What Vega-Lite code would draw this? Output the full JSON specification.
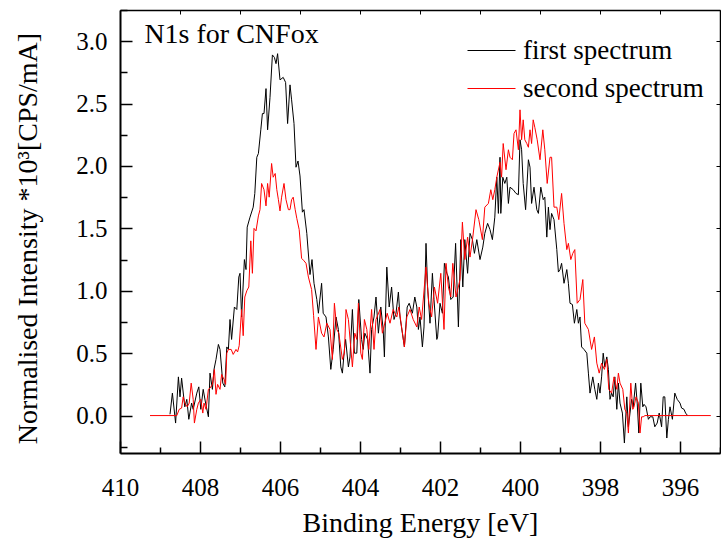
{
  "$schema": "https://vega.github.io/schema/vega-lite/v6.json",
  "width": 600,
  "height": 443,
  "autosize": {"type": "none"},
  "padding": {"left": 120, "top": 10, "right": 1, "bottom": 87},
  "background": "white",
  "config": {
    "font": "Liberation Serif, DejaVu Serif, serif",
    "view": {"stroke": null},
    "axis": {"grid": false, "domainColor": "black", "tickColor": "black", "labelColor": "black", "titleColor": "black", "titleFontWeight": "normal", "labelFont": "Liberation Serif, DejaVu Serif, serif", "titleFont": "Liberation Serif, DejaVu Serif, serif"},
    "legend": {"labelFont": "Liberation Serif, DejaVu Serif, serif", "labelColor": "black"},
    "text": {"font": "Liberation Serif, DejaVu Serif, serif"}
  },
  "resolve": {"axis": {"x": "independent", "y": "independent"}},
  "layer": [
    {
      "data": {"values": [
        {"s":"first spectrum","E":408.75,"I":0.01},{"s":"first spectrum","E":408.69,"I":0.18},{"s":"first spectrum","E":408.61,"I":-0.06},{"s":"first spectrum","E":408.54,"I":0.31},{"s":"first spectrum","E":408.50,"I":0.15},{"s":"first spectrum","E":408.46,"I":0.30},{"s":"first spectrum","E":408.38,"I":0.07},{"s":"first spectrum","E":408.33,"I":0.13},{"s":"first spectrum","E":408.28,"I":-0.03},{"s":"first spectrum","E":408.21,"I":0.10},{"s":"first spectrum","E":408.17,"I":0.05},{"s":"first spectrum","E":408.08,"I":0.18},{"s":"first spectrum","E":408.03,"I":0.23},{"s":"first spectrum","E":407.98,"I":0.05},{"s":"first spectrum","E":407.92,"I":0.21},{"s":"first spectrum","E":407.86,"I":0.10},{"s":"first spectrum","E":407.79,"I":-0.01},{"s":"first spectrum","E":407.75,"I":0.34},{"s":"first spectrum","E":407.69,"I":0.21},{"s":"first spectrum","E":407.65,"I":0.37},{"s":"first spectrum","E":407.60,"I":0.45},{"s":"first spectrum","E":407.54,"I":0.57},{"s":"first spectrum","E":407.50,"I":0.53},{"s":"first spectrum","E":407.43,"I":0.26},{"s":"first spectrum","E":407.38,"I":0.23},{"s":"first spectrum","E":407.33,"I":0.55},{"s":"first spectrum","E":407.29,"I":0.53},{"s":"first spectrum","E":407.25,"I":0.77},{"s":"first spectrum","E":407.21,"I":0.61},{"s":"first spectrum","E":407.14,"I":0.87},{"s":"first spectrum","E":407.08,"I":0.85},{"s":"first spectrum","E":407.03,"I":1.11},{"s":"first spectrum","E":407.00,"I":1.14},{"s":"first spectrum","E":406.96,"I":0.79},{"s":"first spectrum","E":406.89,"I":1.25},{"s":"first spectrum","E":406.85,"I":1.17},{"s":"first spectrum","E":406.82,"I":1.51},{"s":"first spectrum","E":406.75,"I":1.59},{"s":"first spectrum","E":406.67,"I":1.67},{"s":"first spectrum","E":406.63,"I":1.78},{"s":"first spectrum","E":406.58,"I":2.07},{"s":"first spectrum","E":406.54,"I":2.10},{"s":"first spectrum","E":406.48,"I":2.29},{"s":"first spectrum","E":406.44,"I":2.42},{"s":"first spectrum","E":406.40,"I":2.42},{"s":"first spectrum","E":406.35,"I":2.62},{"s":"first spectrum","E":406.31,"I":2.29},{"s":"first spectrum","E":406.25,"I":2.55},{"s":"first spectrum","E":406.19,"I":2.89},{"s":"first spectrum","E":406.14,"I":2.87},{"s":"first spectrum","E":406.10,"I":2.82},{"s":"first spectrum","E":406.06,"I":2.90},{"s":"first spectrum","E":406.00,"I":2.69},{"s":"first spectrum","E":405.92,"I":2.71},{"s":"first spectrum","E":405.86,"I":2.67},{"s":"first spectrum","E":405.81,"I":2.34},{"s":"first spectrum","E":405.75,"I":2.65},{"s":"first spectrum","E":405.71,"I":2.53},{"s":"first spectrum","E":405.65,"I":2.34},{"s":"first spectrum","E":405.60,"I":1.99},{"s":"first spectrum","E":405.55,"I":2.04},{"s":"first spectrum","E":405.50,"I":1.92},{"s":"first spectrum","E":405.44,"I":1.63},{"s":"first spectrum","E":405.40,"I":1.65},{"s":"first spectrum","E":405.33,"I":1.46},{"s":"first spectrum","E":405.25,"I":1.13},{"s":"first spectrum","E":405.20,"I":1.25},{"s":"first spectrum","E":405.15,"I":1.06},{"s":"first spectrum","E":405.08,"I":0.93},{"s":"first spectrum","E":405.04,"I":0.82},{"s":"first spectrum","E":404.96,"I":1.06},{"s":"first spectrum","E":404.92,"I":0.82},{"s":"first spectrum","E":404.85,"I":0.79},{"s":"first spectrum","E":404.79,"I":0.63},{"s":"first spectrum","E":404.73,"I":0.37},{"s":"first spectrum","E":404.67,"I":0.53},{"s":"first spectrum","E":404.60,"I":0.79},{"s":"first spectrum","E":404.54,"I":0.69},{"s":"first spectrum","E":404.48,"I":0.39},{"s":"first spectrum","E":404.44,"I":0.34},{"s":"first spectrum","E":404.39,"I":0.53},{"s":"first spectrum","E":404.36,"I":0.61},{"s":"first spectrum","E":404.29,"I":0.39},{"s":"first spectrum","E":404.25,"I":0.47},{"s":"first spectrum","E":404.19,"I":0.85},{"s":"first spectrum","E":404.14,"I":0.50},{"s":"first spectrum","E":404.08,"I":0.50},{"s":"first spectrum","E":404.03,"I":0.93},{"s":"first spectrum","E":403.96,"I":0.61},{"s":"first spectrum","E":403.92,"I":0.53},{"s":"first spectrum","E":403.88,"I":0.66},{"s":"first spectrum","E":403.81,"I":0.61},{"s":"first spectrum","E":403.75,"I":0.34},{"s":"first spectrum","E":403.71,"I":0.69},{"s":"first spectrum","E":403.65,"I":0.79},{"s":"first spectrum","E":403.60,"I":0.95},{"s":"first spectrum","E":403.54,"I":0.66},{"s":"first spectrum","E":403.48,"I":0.87},{"s":"first spectrum","E":403.42,"I":0.69},{"s":"first spectrum","E":403.39,"I":0.47},{"s":"first spectrum","E":403.33,"I":1.19},{"s":"first spectrum","E":403.27,"I":0.87},{"s":"first spectrum","E":403.21,"I":1.03},{"s":"first spectrum","E":403.15,"I":0.77},{"s":"first spectrum","E":403.10,"I":0.82},{"s":"first spectrum","E":403.04,"I":0.99},{"s":"first spectrum","E":403.00,"I":0.79},{"s":"first spectrum","E":402.94,"I":0.66},{"s":"first spectrum","E":402.89,"I":0.55},{"s":"first spectrum","E":402.82,"I":0.87},{"s":"first spectrum","E":402.77,"I":0.90},{"s":"first spectrum","E":402.69,"I":0.82},{"s":"first spectrum","E":402.63,"I":0.95},{"s":"first spectrum","E":402.58,"I":0.87},{"s":"first spectrum","E":402.54,"I":0.69},{"s":"first spectrum","E":402.50,"I":0.79},{"s":"first spectrum","E":402.44,"I":0.55},{"s":"first spectrum","E":402.40,"I":0.71},{"s":"first spectrum","E":402.35,"I":1.38},{"s":"first spectrum","E":402.31,"I":1.03},{"s":"first spectrum","E":402.25,"I":0.74},{"s":"first spectrum","E":402.19,"I":1.14},{"s":"first spectrum","E":402.15,"I":0.93},{"s":"first spectrum","E":402.08,"I":0.61},{"s":"first spectrum","E":402.06,"I":0.63},{"s":"first spectrum","E":402.00,"I":0.90},{"s":"first spectrum","E":401.94,"I":0.82},{"s":"first spectrum","E":401.89,"I":1.22},{"s":"first spectrum","E":401.83,"I":1.14},{"s":"first spectrum","E":401.79,"I":1.11},{"s":"first spectrum","E":401.73,"I":0.93},{"s":"first spectrum","E":401.67,"I":0.95},{"s":"first spectrum","E":401.61,"I":1.38},{"s":"first spectrum","E":401.54,"I":0.71},{"s":"first spectrum","E":401.48,"I":1.41},{"s":"first spectrum","E":401.43,"I":1.03},{"s":"first spectrum","E":401.38,"I":1.41},{"s":"first spectrum","E":401.31,"I":1.14},{"s":"first spectrum","E":401.25,"I":1.46},{"s":"first spectrum","E":401.19,"I":1.41},{"s":"first spectrum","E":401.14,"I":1.30},{"s":"first spectrum","E":401.08,"I":1.41},{"s":"first spectrum","E":401.00,"I":1.25},{"s":"first spectrum","E":400.93,"I":1.35},{"s":"first spectrum","E":400.88,"I":1.46},{"s":"first spectrum","E":400.81,"I":1.54},{"s":"first spectrum","E":400.75,"I":1.49},{"s":"first spectrum","E":400.69,"I":1.41},{"s":"first spectrum","E":400.63,"I":1.59},{"s":"first spectrum","E":400.58,"I":1.91},{"s":"first spectrum","E":400.54,"I":1.62},{"s":"first spectrum","E":400.50,"I":2.07},{"s":"first spectrum","E":400.48,"I":1.62},{"s":"first spectrum","E":400.43,"I":1.91},{"s":"first spectrum","E":400.38,"I":1.86},{"s":"first spectrum","E":400.33,"I":1.91},{"s":"first spectrum","E":400.29,"I":1.70},{"s":"first spectrum","E":400.25,"I":1.83},{"s":"first spectrum","E":400.17,"I":1.81},{"s":"first spectrum","E":400.10,"I":1.78},{"s":"first spectrum","E":400.04,"I":1.77},{"s":"first spectrum","E":400.00,"I":2.21},{"s":"first spectrum","E":399.96,"I":2.13},{"s":"first spectrum","E":399.92,"I":1.86},{"s":"first spectrum","E":399.86,"I":1.65},{"s":"first spectrum","E":399.79,"I":2.05},{"s":"first spectrum","E":399.75,"I":1.99},{"s":"first spectrum","E":399.71,"I":1.70},{"s":"first spectrum","E":399.65,"I":1.83},{"s":"first spectrum","E":399.58,"I":1.65},{"s":"first spectrum","E":399.54,"I":1.62},{"s":"first spectrum","E":399.48,"I":1.83},{"s":"first spectrum","E":399.42,"I":1.73},{"s":"first spectrum","E":399.38,"I":1.75},{"s":"first spectrum","E":399.33,"I":1.43},{"s":"first spectrum","E":399.29,"I":1.67},{"s":"first spectrum","E":399.25,"I":1.49},{"s":"first spectrum","E":399.21,"I":1.62},{"s":"first spectrum","E":399.15,"I":1.57},{"s":"first spectrum","E":399.08,"I":1.33},{"s":"first spectrum","E":399.04,"I":1.15},{"s":"first spectrum","E":399.00,"I":1.17},{"s":"first spectrum","E":398.96,"I":1.22},{"s":"first spectrum","E":398.90,"I":1.06},{"s":"first spectrum","E":398.83,"I":1.17},{"s":"first spectrum","E":398.79,"I":1.06},{"s":"first spectrum","E":398.75,"I":0.90},{"s":"first spectrum","E":398.69,"I":0.89},{"s":"first spectrum","E":398.64,"I":0.74},{"s":"first spectrum","E":398.58,"I":0.85},{"s":"first spectrum","E":398.54,"I":0.74},{"s":"first spectrum","E":398.50,"I":0.79},{"s":"first spectrum","E":398.46,"I":0.55},{"s":"first spectrum","E":398.40,"I":0.53},{"s":"first spectrum","E":398.33,"I":0.50},{"s":"first spectrum","E":398.29,"I":0.34},{"s":"first spectrum","E":398.25,"I":0.18},{"s":"first spectrum","E":398.18,"I":0.31},{"s":"first spectrum","E":398.13,"I":0.21},{"s":"first spectrum","E":398.08,"I":0.13},{"s":"first spectrum","E":398.04,"I":0.26},{"s":"first spectrum","E":398.00,"I":0.18},{"s":"first spectrum","E":397.96,"I":0.31},{"s":"first spectrum","E":397.92,"I":0.50},{"s":"first spectrum","E":397.88,"I":0.39},{"s":"first spectrum","E":397.83,"I":0.47},{"s":"first spectrum","E":397.79,"I":0.37},{"s":"first spectrum","E":397.75,"I":0.13},{"s":"first spectrum","E":397.71,"I":0.18},{"s":"first spectrum","E":397.67,"I":0.15},{"s":"first spectrum","E":397.63,"I":0.31},{"s":"first spectrum","E":397.58,"I":0.05},{"s":"first spectrum","E":397.54,"I":0.26},{"s":"first spectrum","E":397.50,"I":0.10},{"s":"first spectrum","E":397.44,"I":0.02},{"s":"first spectrum","E":397.39,"I":-0.22},{"s":"first spectrum","E":397.33,"I":0.15},{"s":"first spectrum","E":397.29,"I":-0.09},{"s":"first spectrum","E":397.25,"I":0.02},{"s":"first spectrum","E":397.21,"I":0.13},{"s":"first spectrum","E":397.17,"I":0.07},{"s":"first spectrum","E":397.11,"I":0.26},{"s":"first spectrum","E":397.07,"I":0.10},{"s":"first spectrum","E":397.03,"I":-0.14},{"s":"first spectrum","E":396.98,"I":0.26},{"s":"first spectrum","E":396.93,"I":0.07},{"s":"first spectrum","E":396.90,"I":0.09},{"s":"first spectrum","E":396.85,"I":0.07},{"s":"first spectrum","E":396.79,"I":-0.03},{"s":"first spectrum","E":396.75,"I":-0.01},{"s":"first spectrum","E":396.68,"I":-0.01},{"s":"first spectrum","E":396.63,"I":-0.09},{"s":"first spectrum","E":396.57,"I":-0.06},{"s":"first spectrum","E":396.52,"I":0.02},{"s":"first spectrum","E":396.46,"I":-0.09},{"s":"first spectrum","E":396.42,"I":0.15},{"s":"first spectrum","E":396.38,"I":0.15},{"s":"first spectrum","E":396.33,"I":-0.18},{"s":"first spectrum","E":396.29,"I":-0.03},{"s":"first spectrum","E":396.25,"I":0.07},{"s":"first spectrum","E":396.19,"I":-0.03},{"s":"first spectrum","E":396.13,"I":0.18},{"s":"first spectrum","E":396.07,"I":0.13},{"s":"first spectrum","E":396.00,"I":0.10},{"s":"first spectrum","E":395.96,"I":0.06},{"s":"first spectrum","E":395.90,"I":0.05},{"s":"first spectrum","E":395.86,"I":0.02},{"s":"first spectrum","E":395.81,"I":0.0},
        {"s":"second spectrum","E":409.25,"I":0.0},{"s":"second spectrum","E":408.58,"I":0.0},{"s":"second spectrum","E":408.52,"I":0.05},{"s":"second spectrum","E":408.46,"I":0.06},{"s":"second spectrum","E":408.42,"I":0.15},{"s":"second spectrum","E":408.38,"I":0.10},{"s":"second spectrum","E":408.32,"I":0.07},{"s":"second spectrum","E":408.27,"I":0.10},{"s":"second spectrum","E":408.22,"I":0.26},{"s":"second spectrum","E":408.17,"I":0.13},{"s":"second spectrum","E":408.14,"I":-0.06},{"s":"second spectrum","E":408.08,"I":0.05},{"s":"second spectrum","E":408.04,"I":0.10},{"s":"second spectrum","E":407.98,"I":0.13},{"s":"second spectrum","E":407.93,"I":0.02},{"s":"second spectrum","E":407.90,"I":0.10},{"s":"second spectrum","E":407.85,"I":0.05},{"s":"second spectrum","E":407.79,"I":0.21},{"s":"second spectrum","E":407.75,"I":0.22},{"s":"second spectrum","E":407.69,"I":0.25},{"s":"second spectrum","E":407.64,"I":0.37},{"s":"second spectrum","E":407.60,"I":0.17},{"s":"second spectrum","E":407.56,"I":0.25},{"s":"second spectrum","E":407.50,"I":0.21},{"s":"second spectrum","E":407.46,"I":0.33},{"s":"second spectrum","E":407.40,"I":0.29},{"s":"second spectrum","E":407.36,"I":0.25},{"s":"second spectrum","E":407.33,"I":0.50},{"s":"second spectrum","E":407.29,"I":0.53},{"s":"second spectrum","E":407.22,"I":0.53},{"s":"second spectrum","E":407.17,"I":0.49},{"s":"second spectrum","E":407.10,"I":0.53},{"s":"second spectrum","E":407.06,"I":0.51},{"s":"second spectrum","E":407.02,"I":0.56},{"s":"second spectrum","E":406.96,"I":0.85},{"s":"second spectrum","E":406.92,"I":0.64},{"s":"second spectrum","E":406.88,"I":0.95},{"s":"second spectrum","E":406.83,"I":1.00},{"s":"second spectrum","E":406.78,"I":1.03},{"s":"second spectrum","E":406.73,"I":1.40},{"s":"second spectrum","E":406.69,"I":1.14},{"s":"second spectrum","E":406.65,"I":1.50},{"s":"second spectrum","E":406.60,"I":1.48},{"s":"second spectrum","E":406.54,"I":1.60},{"s":"second spectrum","E":406.50,"I":1.65},{"s":"second spectrum","E":406.46,"I":1.86},{"s":"second spectrum","E":406.40,"I":1.81},{"s":"second spectrum","E":406.35,"I":1.68},{"s":"second spectrum","E":406.31,"I":1.86},{"s":"second spectrum","E":406.27,"I":1.75},{"s":"second spectrum","E":406.21,"I":2.02},{"s":"second spectrum","E":406.17,"I":1.91},{"s":"second spectrum","E":406.12,"I":1.94},{"s":"second spectrum","E":406.08,"I":1.81},{"s":"second spectrum","E":406.04,"I":1.73},{"s":"second spectrum","E":406.00,"I":1.64},{"s":"second spectrum","E":405.96,"I":1.75},{"s":"second spectrum","E":405.90,"I":1.86},{"s":"second spectrum","E":405.85,"I":1.73},{"s":"second spectrum","E":405.79,"I":1.65},{"s":"second spectrum","E":405.75,"I":1.65},{"s":"second spectrum","E":405.71,"I":1.73},{"s":"second spectrum","E":405.67,"I":1.75},{"s":"second spectrum","E":405.62,"I":1.65},{"s":"second spectrum","E":405.58,"I":1.58},{"s":"second spectrum","E":405.52,"I":1.49},{"s":"second spectrum","E":405.46,"I":1.26},{"s":"second spectrum","E":405.40,"I":1.24},{"s":"second spectrum","E":405.35,"I":1.22},{"s":"second spectrum","E":405.29,"I":1.11},{"s":"second spectrum","E":405.21,"I":1.01},{"s":"second spectrum","E":405.16,"I":0.80},{"s":"second spectrum","E":405.10,"I":0.53},{"s":"second spectrum","E":405.04,"I":0.79},{"s":"second spectrum","E":404.96,"I":0.66},{"s":"second spectrum","E":404.90,"I":0.63},{"s":"second spectrum","E":404.83,"I":0.74},{"s":"second spectrum","E":404.75,"I":0.69},{"s":"second spectrum","E":404.69,"I":0.45},{"s":"second spectrum","E":404.64,"I":0.90},{"s":"second spectrum","E":404.58,"I":0.69},{"s":"second spectrum","E":404.53,"I":0.66},{"s":"second spectrum","E":404.44,"I":0.45},{"s":"second spectrum","E":404.39,"I":0.50},{"s":"second spectrum","E":404.35,"I":0.85},{"s":"second spectrum","E":404.29,"I":0.77},{"s":"second spectrum","E":404.19,"I":0.39},{"s":"second spectrum","E":404.13,"I":0.66},{"s":"second spectrum","E":404.08,"I":0.61},{"s":"second spectrum","E":404.04,"I":0.90},{"s":"second spectrum","E":403.98,"I":0.50},{"s":"second spectrum","E":403.94,"I":0.45},{"s":"second spectrum","E":403.89,"I":0.77},{"s":"second spectrum","E":403.83,"I":0.69},{"s":"second spectrum","E":403.78,"I":0.53},{"s":"second spectrum","E":403.71,"I":0.85},{"s":"second spectrum","E":403.65,"I":0.53},{"s":"second spectrum","E":403.60,"I":0.77},{"s":"second spectrum","E":403.50,"I":0.85},{"s":"second spectrum","E":403.44,"I":0.66},{"s":"second spectrum","E":403.32,"I":0.82},{"s":"second spectrum","E":403.25,"I":0.74},{"s":"second spectrum","E":403.17,"I":0.85},{"s":"second spectrum","E":403.08,"I":0.79},{"s":"second spectrum","E":403.03,"I":0.87},{"s":"second spectrum","E":402.89,"I":0.55},{"s":"second spectrum","E":402.83,"I":0.79},{"s":"second spectrum","E":402.75,"I":0.85},{"s":"second spectrum","E":402.67,"I":0.77},{"s":"second spectrum","E":402.58,"I":0.71},{"s":"second spectrum","E":402.52,"I":0.87},{"s":"second spectrum","E":402.46,"I":0.77},{"s":"second spectrum","E":402.35,"I":1.19},{"s":"second spectrum","E":402.28,"I":0.90},{"s":"second spectrum","E":402.21,"I":0.79},{"s":"second spectrum","E":402.14,"I":1.03},{"s":"second spectrum","E":402.06,"I":0.90},{"s":"second spectrum","E":401.98,"I":1.14},{"s":"second spectrum","E":401.90,"I":0.69},{"s":"second spectrum","E":401.85,"I":1.22},{"s":"second spectrum","E":401.79,"I":1.03},{"s":"second spectrum","E":401.73,"I":0.95},{"s":"second spectrum","E":401.68,"I":1.22},{"s":"second spectrum","E":401.60,"I":0.95},{"s":"second spectrum","E":401.50,"I":1.09},{"s":"second spectrum","E":401.44,"I":1.55},{"s":"second spectrum","E":401.38,"I":1.25},{"s":"second spectrum","E":401.31,"I":1.43},{"s":"second spectrum","E":401.25,"I":1.27},{"s":"second spectrum","E":401.18,"I":1.43},{"s":"second spectrum","E":401.10,"I":1.65},{"s":"second spectrum","E":401.03,"I":1.57},{"s":"second spectrum","E":400.94,"I":1.41},{"s":"second spectrum","E":400.88,"I":1.67},{"s":"second spectrum","E":400.79,"I":1.70},{"s":"second spectrum","E":400.73,"I":1.81},{"s":"second spectrum","E":400.68,"I":1.73},{"s":"second spectrum","E":400.63,"I":1.81},{"s":"second spectrum","E":400.58,"I":1.91},{"s":"second spectrum","E":400.50,"I":2.03},{"s":"second spectrum","E":400.46,"I":1.91},{"s":"second spectrum","E":400.42,"I":2.18},{"s":"second spectrum","E":400.35,"I":1.97},{"s":"second spectrum","E":400.29,"I":2.13},{"s":"second spectrum","E":400.25,"I":2.07},{"s":"second spectrum","E":400.19,"I":2.05},{"s":"second spectrum","E":400.15,"I":2.26},{"s":"second spectrum","E":400.10,"I":2.29},{"s":"second spectrum","E":400.04,"I":2.13},{"s":"second spectrum","E":400.00,"I":2.45},{"s":"second spectrum","E":399.96,"I":2.21},{"s":"second spectrum","E":399.92,"I":2.37},{"s":"second spectrum","E":399.88,"I":2.21},{"s":"second spectrum","E":399.83,"I":2.18},{"s":"second spectrum","E":399.79,"I":2.15},{"s":"second spectrum","E":399.75,"I":2.29},{"s":"second spectrum","E":399.71,"I":2.18},{"s":"second spectrum","E":399.67,"I":2.37},{"s":"second spectrum","E":399.63,"I":2.31},{"s":"second spectrum","E":399.57,"I":2.21},{"s":"second spectrum","E":399.50,"I":2.05},{"s":"second spectrum","E":399.43,"I":2.29},{"s":"second spectrum","E":399.38,"I":2.13},{"s":"second spectrum","E":399.32,"I":1.86},{"s":"second spectrum","E":399.25,"I":2.07},{"s":"second spectrum","E":399.21,"I":2.07},{"s":"second spectrum","E":399.15,"I":1.67},{"s":"second spectrum","E":399.08,"I":1.67},{"s":"second spectrum","E":399.03,"I":1.57},{"s":"second spectrum","E":398.96,"I":1.78},{"s":"second spectrum","E":398.90,"I":1.54},{"s":"second spectrum","E":398.83,"I":1.33},{"s":"second spectrum","E":398.79,"I":1.38},{"s":"second spectrum","E":398.73,"I":1.25},{"s":"second spectrum","E":398.68,"I":1.30},{"s":"second spectrum","E":398.63,"I":1.33},{"s":"second spectrum","E":398.57,"I":0.90},{"s":"second spectrum","E":398.50,"I":0.93},{"s":"second spectrum","E":398.43,"I":1.09},{"s":"second spectrum","E":398.38,"I":0.74},{"s":"second spectrum","E":398.29,"I":0.69},{"s":"second spectrum","E":398.21,"I":0.53},{"s":"second spectrum","E":398.14,"I":0.63},{"s":"second spectrum","E":398.08,"I":0.42},{"s":"second spectrum","E":398.02,"I":0.34},{"s":"second spectrum","E":397.96,"I":0.42},{"s":"second spectrum","E":397.89,"I":0.37},{"s":"second spectrum","E":397.83,"I":0.45},{"s":"second spectrum","E":397.78,"I":0.21},{"s":"second spectrum","E":397.71,"I":0.18},{"s":"second spectrum","E":397.65,"I":0.31},{"s":"second spectrum","E":397.58,"I":0.21},{"s":"second spectrum","E":397.54,"I":0.34},{"s":"second spectrum","E":397.50,"I":0.26},{"s":"second spectrum","E":397.43,"I":0.21},{"s":"second spectrum","E":397.38,"I":0.05},{"s":"second spectrum","E":397.33,"I":0.02},{"s":"second spectrum","E":397.29,"I":-0.14},{"s":"second spectrum","E":397.23,"I":0.26},{"s":"second spectrum","E":397.18,"I":0.05},{"s":"second spectrum","E":397.15,"I":0.07},{"s":"second spectrum","E":397.10,"I":0.15},{"s":"second spectrum","E":397.04,"I":0.10},{"s":"second spectrum","E":397.00,"I":-0.14},{"s":"second spectrum","E":396.96,"I":-0.01},{"s":"second spectrum","E":396.92,"I":-0.01},{"s":"second spectrum","E":396.875,"I":0.0},{"s":"second spectrum","E":395.23,"I":0.0}
      ]},
      "mark": {"type": "line", "strokeWidth": 1, "clip": true},
      "encoding": {
        "x": {"field": "E", "type": "quantitative",
          "scale": {"domain": [395, 410], "reverse": true, "nice": false, "zero": false},
          "axis": {"orient": "bottom", "title": "Binding Energy [eV]",
            "values": [410,409,408,407,406,405,404,403,402,401,400,399,398,397,396,395],
            "labelExpr": "datum.value % 2 === 0 ? datum.label : ''",
            "tickSize": {"condition": {"test": "datum.value % 2 === 0", "value": -12}, "value": -6},
            "tickWidth": 1.5, "domainWidth": 2, "labelFontSize": 25, "labelPadding": 34,
            "labelFlush": false, "labelOverlap": false, "labelBaseline": "top",
            "titleFontSize": 28, "titleY": 78, "titleBaseline": "alphabetic"}},
        "y": {"field": "I", "type": "quantitative",
          "scale": {"domain": [-0.3, 3.25], "nice": false, "zero": false},
          "axis": {"orient": "left", "title": "Normalised Intensity *10³[CPS/mA]",
            "values": [-0.25,0,0.25,0.5,0.75,1,1.25,1.5,1.75,2,2.25,2.5,2.75,3,3.25],
            "labelExpr": "(abs(datum.value*2 - round(datum.value*2)) < 0.001 && datum.value > -0.01 && datum.value < 3.01) ? format(datum.value, '.1f') : ''",
            "tickSize": {"condition": {"test": "abs(datum.value*2 - round(datum.value*2)) < 0.001", "value": -12}, "value": -7},
            "tickWidth": 1.5, "domainWidth": 2, "labelFontSize": 25, "labelPadding": 25,
            "labelFlush": false, "labelOverlap": false,
            "titleFontSize": 28, "titleX": -92, "titleY": 228, "titleAngle": -90, "titleBaseline": "middle", "titleAlign": "center"}},
        "color": {"field": "s", "type": "nominal",
          "scale": {"domain": ["first spectrum", "second spectrum"], "range": ["#000000", "#ff0000"]},
          "legend": {"orient": "none", "legendX": 347, "legendY": 16, "title": null,
            "symbolType": "stroke", "symbolSize": 2304, "symbolStrokeWidth": 1,
            "labelFontSize": 27, "labelOffset": 7, "labelLimit": 400, "rowPadding": -21, "padding": 0}}
      }
    },
    {
      "data": {"values": [{"t": "N1s for CNFox", "E": 409.39, "I": 2.984}]},
      "mark": {"type": "text", "align": "left", "baseline": "alphabetic", "fontSize": 28, "font": "Liberation Serif, DejaVu Serif, serif", "color": "black"},
      "encoding": {
        "text": {"field": "t"},
        "x": {"field": "E", "type": "quantitative",
          "axis": {"orient": "top", "title": null, "labels": false,
            "values": [410, 408.5, 407, 405.5, 404, 402.5, 401, 399.5, 398, 396.5, 395],
            "tickSize": -4, "tickWidth": 1, "domainWidth": 1.5}},
        "y": {"field": "I", "type": "quantitative",
          "axis": {"orient": "right", "title": null, "labels": false,
            "values": [0, 0.5, 1, 1.5, 2, 2.5, 3],
            "tickSize": -4, "tickWidth": 1, "domainWidth": 1.5}}
      }
    }
  ]
}
